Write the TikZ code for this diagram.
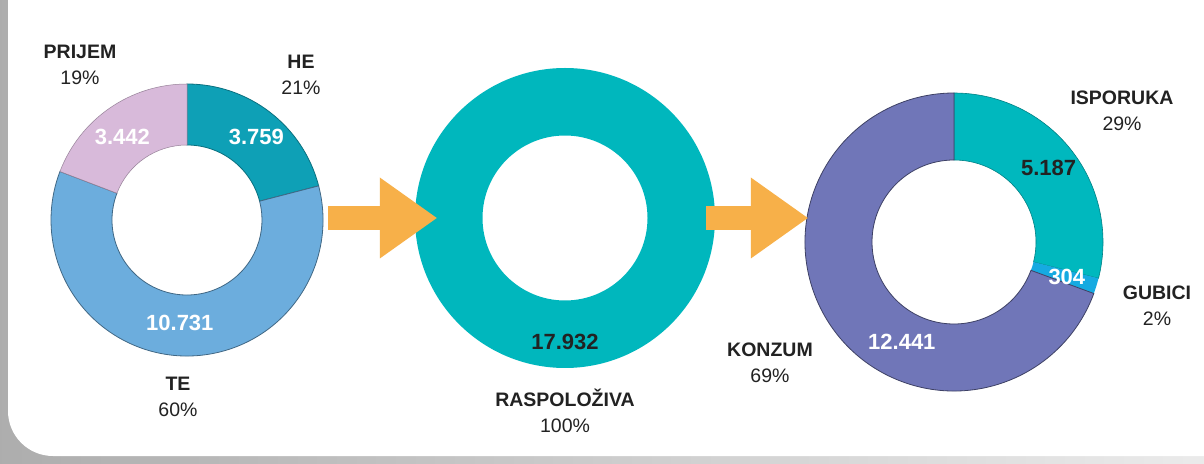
\documentclass[tikz,border=0pt]{standalone}
\usepackage{fontspec}
\setmainfont{Liberation Sans}
\usepackage{tikz}
\usetikzlibrary{arrows.meta,positioning,calc}

\definecolor{prijemc}{RGB}{216,186,218}
\definecolor{hec}{RGB}{14,160,182}
\definecolor{tec}{RGB}{108,173,221}
\definecolor{raspc}{RGB}{0,183,189}
\definecolor{isporc}{RGB}{0,184,190}
\definecolor{gubc}{RGB}{22,170,225}
\definecolor{konzc}{RGB}{112,118,184}
\definecolor{arrowc}{RGB}{247,176,73}
\definecolor{lblc}{RGB}{34,34,34}

% ring segment: center, outer r, inner r, start, end, style
\newcommand{\ringseg}[6]{
  \path[#6] ($(#1)+(#4:#2)$) arc[start angle=#4, end angle=#5, radius=#2]
    -- ($(#1)+(#5:#3)$) arc[start angle=#5, end angle=#4, radius=#3] -- cycle;
}

\begin{document}
\begin{tikzpicture}[x=1pt,y=1pt]
\tikzstyle{ring}=[circle, inner sep=0pt, draw=none]
\tikzstyle{lbl}=[align=center, text=lblc,
  font=\fontsize{19.5}{26}\selectfont]
\tikzstyle{val}=[font=\fontsize{22}{22}\selectfont\bfseries, text=white]
\tikzstyle{flow}=[arrowc, line width=24pt,
  -{Triangle[length=57pt, width=81pt, line width=0pt]}]

\useasboundingbox (0,0) rectangle (1204,463);
\shade[left color=black!32, right color=black!8] (0,0) rectangle (1204,463);
\fill[white, rounded corners=45pt] (8,7) rectangle (1250,510);

% donuts
\node[ring, minimum size=272pt] (prim) at (187,243) {};
\node[ring, minimum size=300pt] (raspol) at (565,245) {};
\node[ring, minimum size=298pt] (konz) at (954,221) {};

\ringseg{prim}{136}{75}{90}{14.53}{fill=hec, draw=hec!70!black, line width=0.8pt}
\ringseg{prim}{136}{75}{14.53}{-200.90}{fill=tec, draw=tec!60!black, line width=0.8pt}
\ringseg{prim}{136}{75}{-200.90}{-270}{fill=prijemc, draw=prijemc!70!black, line width=0.5pt}

\ringseg{raspol}{150}{82.5}{90}{-270}{fill=raspc}

\ringseg{konz}{149}{82}{90}{-14.13}{fill=isporc, draw=isporc!70!black, line width=0.6pt}
\ringseg{konz}{149}{82}{-14.13}{-20.23}{fill=gubc}
\ringseg{konz}{149}{82}{-20.23}{-270}{fill=konzc, draw=konzc!55!black, line width=0.8pt}

% values
\node[val] (v1) at ($(prim)+(128:105)$) {3.442};
\node[val] (v2) at ($(prim)+(50:108)$) {3.759};
\node[val] (v3) at ($(prim)+(266:103)$) {10.731};
\node[val, text=lblc] (v4) at ($(raspol)+(270:124)$) {17.932};
\node[val, text=lblc] (v5) at ($(konz)+(38:120)$) {5.187};
\node[val] (v6) at ($(konz)+(-17:118)$) {304};
\node[val] (v7) at ($(konz)+(242.5:113)$) {12.441};

% labels
\node[lbl] (lprijem) at (80,398) {\textbf{PRIJEM}\\19\%};
\node[lbl] (lhe) at (301,388) {\textbf{HE}\\21\%};
\node[lbl] (lte) at (178,66) {\textbf{TE}\\60\%};
\node[lbl] (lrasp) at (565,52) {\textbf{RASPOLOŽIVA}\\100\%};
\node[lbl] (lkonz) at (770,100) {\textbf{KONZUM}\\69\%};
\node[lbl] (lispor) at (1122,352) {\textbf{ISPORUKA}\\29\%};
\node[lbl] (lgub) at (1157,157) {\textbf{GUBICI}\\2\%};

% arrows
\draw[flow, shorten <=5pt, shorten >=-22pt] (prim.east |- raspol.west) -- (raspol.west);
\draw[flow, shorten <=-9pt, shorten >=-3pt] (raspol.east) -- (raspol.east -| konz.west);

\end{tikzpicture}
\end{document}
